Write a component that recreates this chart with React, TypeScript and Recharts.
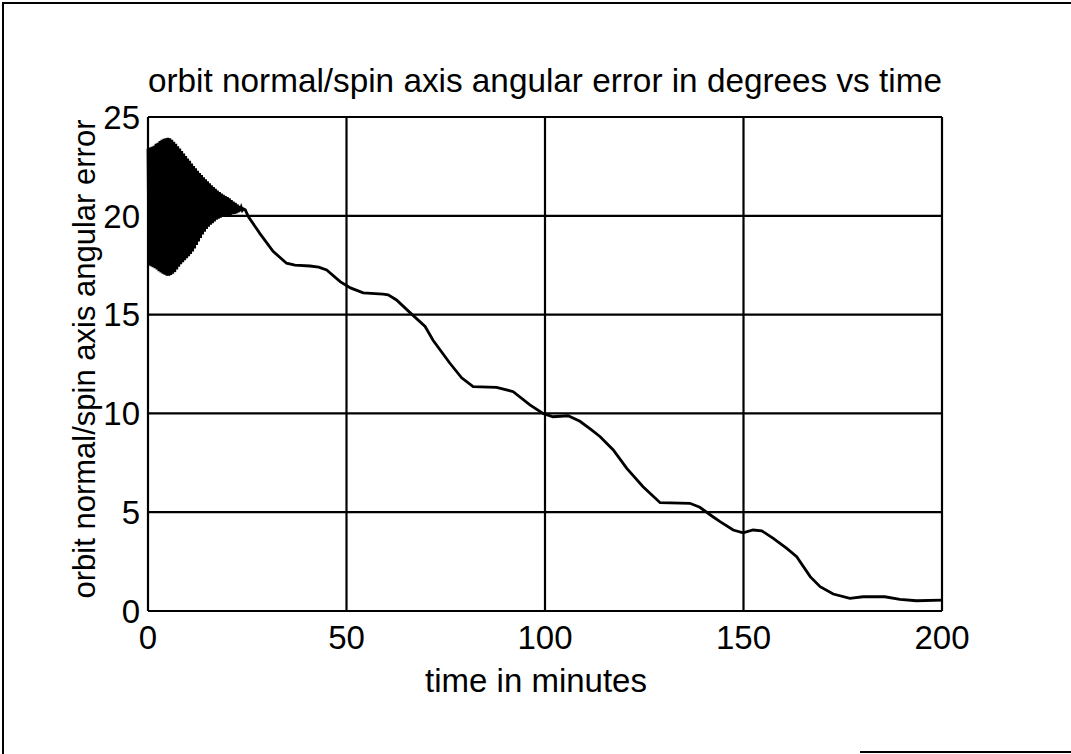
import { LineChart, Line, XAxis, YAxis, CartesianGrid } from 'recharts';

// fast nutation at the start: peaks at t = 0, 0.5, ... 24 and troughs in between
const oscStep = 0.25;
const oscPeaks = [
  23.4, 23.45, 23.5, 23.55, 23.65, 23.7, 23.78, 23.85, 23.9, 23.93,
  23.95, 23.92, 23.85, 23.75, 23.65, 23.52, 23.4, 23.28, 23.15, 23.02,
  22.9, 22.78, 22.65, 22.52, 22.4, 22.28, 22.17, 22.06, 21.95, 21.85,
  21.75, 21.65, 21.55, 21.46, 21.37, 21.28, 21.2, 21.13, 21.06, 21.0,
  20.95, 20.88, 20.8, 20.72, 20.65, 20.57, 20.5, 20.42, 20.35,
];
const oscTroughs = [
  17.5, 17.45, 17.4, 17.35, 17.28, 17.2, 17.13, 17.07, 17.02, 16.97,
  16.96, 17.0, 17.07, 17.15, 17.28, 17.42, 17.55, 17.65, 17.75, 17.85,
  17.95, 18.07, 18.2, 18.35, 18.52, 18.7, 18.88, 19.05, 19.2, 19.33,
  19.45, 19.55, 19.63, 19.72, 19.8, 19.85, 19.9, 19.94, 19.97, 20.0,
  20.02, 20.05, 20.08, 20.1, 20.13, 20.18, 20.23, 20.28,
];

// slow decay after the nutation has damped out
const curveTime = [
  24.5, 25.3, 28.2, 31.5, 34.9, 37, 40.8, 43, 45, 48.4,
  51, 54.2, 59.2, 60.5, 62.6, 66, 69.8, 71.8, 76, 79,
  81.9, 87.8, 92, 96.2, 99.5, 102, 105.8, 108.8, 111.8, 113.9,
  117.2, 120.6, 124.7, 129, 136.5, 139, 142.3, 144.1, 147.4, 149.9,
  152.4, 154.6, 157.5, 160.9, 163.4, 166.8, 169.3, 172.6, 176.8, 180.1,
  185.6, 189.4, 193.6, 200,
];
const curveValue = [
  20.3, 19.95, 19.1, 18.2, 17.6, 17.5, 17.46, 17.4, 17.26, 16.67,
  16.35, 16.1, 16.04, 16.0, 15.74, 15.1, 14.4, 13.7, 12.55, 11.8,
  11.35, 11.32, 11.1, 10.43, 10.0, 9.83, 9.88, 9.6, 9.15, 8.82,
  8.15, 7.22, 6.29, 5.48, 5.45, 5.25, 4.77, 4.52, 4.1, 3.96,
  4.1, 4.06, 3.68, 3.17, 2.75, 1.74, 1.23, 0.86, 0.64, 0.72,
  0.72, 0.59, 0.52, 0.55,
];

const xTicks = [0, 50, 100, 150, 200];
const yTicks = [0, 5, 10, 15, 20, 25];

const font = '"Liberation Sans", Arial, sans-serif';

const buildData = () => {
  const rows: { t: number; v: number }[] = [];
  for (let i = 0; i < oscPeaks.length; i++) {
    rows.push({ t: i * 2 * oscStep, v: oscPeaks[i] });
    if (i < oscTroughs.length) {
      rows.push({ t: (i * 2 + 1) * oscStep, v: oscTroughs[i] });
    }
  }
  curveTime.forEach((t, i) => rows.push({ t, v: curveValue[i] }));
  return rows;
};

const textBase = {
  position: 'absolute' as const,
  whiteSpace: 'nowrap' as const,
  fontFamily: font,
  color: '#000',
  lineHeight: 1,
};

export default function App() {
  const data = buildData();
  const tickStyle = { fill: '#000', fontSize: 33, fontFamily: font };

  return (
    <div style={{ position: 'absolute', left: 0, top: 0, width: 1071, height: 754, background: '#fff', overflow: 'hidden' }}>
      {/* scanned page frame */}
      <div style={{ position: 'absolute', left: 2, top: 2, width: 1069, height: 2, background: '#000' }} />
      <div style={{ position: 'absolute', left: 2, top: 2, width: 2, height: 752, background: '#000' }} />
      <div style={{ position: 'absolute', left: 860, top: 751, width: 211, height: 2, background: '#000' }} />

      <div style={{ ...textBase, left: 148, top: 64, fontSize: 33.3 }}>
        orbit normal/spin axis angular error in degrees vs time
      </div>

      <div style={{ ...textBase, left: 84, top: 359, fontSize: 31, transform: 'translate(-50%, -50%) rotate(-90deg)' }}>
        orbit normal/spin axis angular error
      </div>

      <div style={{ ...textBase, left: 536, top: 680, fontSize: 33, transform: 'translate(-50%, -50%)' }}>
        time in minutes
      </div>

      <div style={{ position: 'absolute', left: 0, top: 0 }}>
        <LineChart width={1071} height={754} data={data} margin={{ top: 117, right: 129, bottom: 113, left: 0 }}>
          <CartesianGrid stroke="#000" strokeWidth={2.2} horizontal vertical />
          <XAxis
            dataKey="t"
            type="number"
            domain={[0, 200]}
            ticks={xTicks}
            height={30}
            axisLine={false}
            tickLine={false}
            tickSize={0}
            tickMargin={15}
            tick={tickStyle}
          />
          <YAxis
            type="number"
            domain={[0, 25]}
            ticks={yTicks}
            width={148}
            axisLine={false}
            tickLine={false}
            tickSize={0}
            tickMargin={8}
            tick={tickStyle}
          />
          <Line
            type="linear"
            dataKey="v"
            stroke="#000"
            strokeWidth={2.8}
            dot={false}
            isAnimationActive={false}
          />
        </LineChart>
      </div>
    </div>
  );
}
